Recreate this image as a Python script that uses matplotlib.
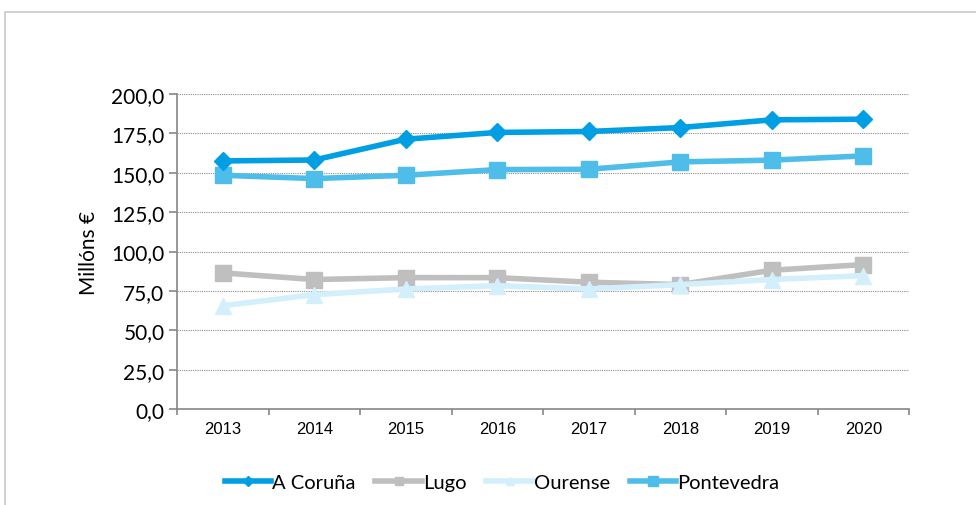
import matplotlib.pyplot as plt
from matplotlib.patches import Rectangle
from matplotlib.ticker import FuncFormatter, FixedLocator

years = ['2013', '2014', '2015', '2016', '2017', '2018', '2019', '2020']
a_coruna = [157.5, 158.1, 171.3, 175.6, 176.2, 178.7, 183.6, 184.0]
lugo = [86.4, 82.2, 83.4, 83.4, 80.5, 79.0, 88.1, 91.7]
ourense = [65.6, 72.6, 76.2, 78.3, 76.2, 79.0, 82.2, 84.7]
pontevedra = [148.4, 146.3, 148.4, 152.0, 152.2, 156.9, 158.0, 160.7]

plt.rcParams['font.family'] = ['Lato', 'DejaVu Sans']

fig = plt.figure(figsize=(9.76, 5.06), dpi=100)
# marco do gráfico
fig.patches.append(Rectangle((5 / 976, -0.1), 1.1, (506 - 13) / 506 + 0.1,
                             transform=fig.transFigure, fill=False,
                             edgecolor='#c8c8c8', linewidth=1.2))

ax = fig.add_axes([177 / 976, (506 - 410) / 506, 732 / 976, 315 / 506])
x = range(len(years))

ax.plot(x, a_coruna, color='#009fe3', lw=4, marker='D', ms=9, label='A Coruña', zorder=5)
ax.plot(x, lugo, color='#bfbfbf', lw=4, marker='s', ms=11, label='Lugo', zorder=3)
ax.plot(x, ourense, color='#d2effb', lw=4, marker='^', ms=11, label='Ourense', zorder=4)
ax.plot(x, pontevedra, color='#4fbdea', lw=4, marker='s', ms=12, label='Pontevedra', zorder=4)

ax.set_xlim(-0.5, len(years) - 0.5)
ax.set_ylim(0, 200)
ax.set_yticks(range(0, 201, 25))
ax.yaxis.set_major_formatter(FuncFormatter(lambda v, p: f'{v:.1f}'.replace('.', ',')))
ax.grid(axis='y', color='#8c8c8c', linestyle=(0, (1, 1)), linewidth=0.8)
ax.set_axisbelow(True)

ax.set_xticks(list(x))
ax.set_xticklabels(years, fontfamily='Liberation Sans', fontsize=12)
ax.xaxis.set_minor_locator(FixedLocator([i - 0.5 for i in range(len(years) + 1)]))
ax.tick_params(axis='x', which='major', length=0, pad=9)
ax.tick_params(axis='x', which='minor', length=4, color='#868686', width=1.2)
ax.tick_params(axis='y', length=6, color='#868686', width=1.2, labelsize=15, pad=3)

for s in ['top', 'right']:
    ax.spines[s].set_visible(False)
ax.spines['left'].set_color('#868686')
ax.spines['bottom'].set_color('#868686')
ax.spines['left'].set_linewidth(1.2)
ax.spines['bottom'].set_linewidth(1.2)

ax.set_ylabel('Millóns €', fontsize=15, labelpad=9)

leg = fig.legend(loc='center', bbox_to_anchor=(502 / 976, 1 - 483 / 506), ncol=4,
                 frameon=False, fontsize=14.5, markerscale=0.55, handlelength=2.3,
                 handletextpad=0.05, columnspacing=1.0)

plt.savefig('out.png', dpi=100)
